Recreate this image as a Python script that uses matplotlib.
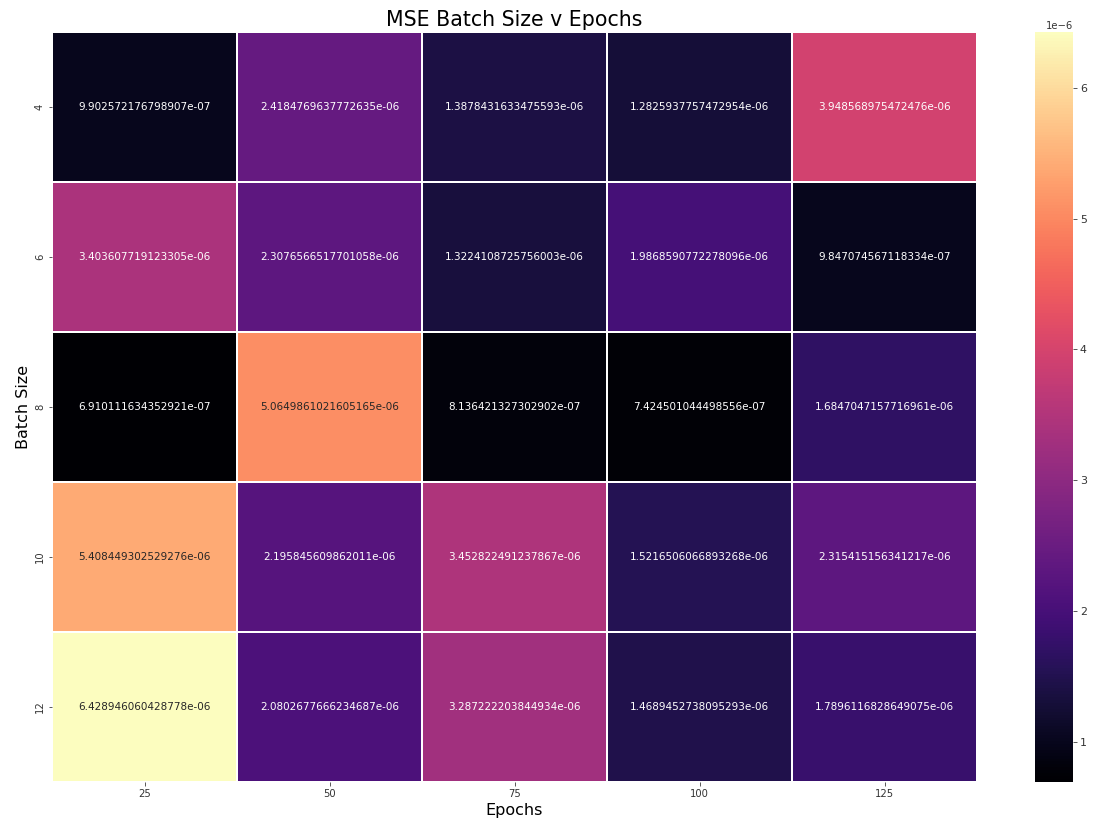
import numpy as np
import matplotlib
matplotlib.use("Agg")
import matplotlib.pyplot as plt
import seaborn as sns

epochs = [25, 50, 75, 100, 125]
batch_sizes = [4, 6, 8, 10, 12]
row_4 = [9.902572176798907e-07, 2.4184769637772635e-06, 1.3878431633475593e-06, 1.2825937757472954e-06, 3.948568975472476e-06]
row_6 = [3.403607719123305e-06, 2.3076566517701058e-06, 1.3224108725756003e-06, 1.9868590772278096e-06, 9.847074567118334e-07]
row_8 = [6.910111634352921e-07, 5.0649861021605165e-06, 8.136421327302902e-07, 7.424501044498556e-07, 1.6847047157716961e-06]
row_10 = [5.408449302529276e-06, 2.195845609862011e-06, 3.452822491237867e-06, 1.5216506066893268e-06, 2.315415156341217e-06]
row_12 = [6.428946060428778e-06, 2.0802677666234687e-06, 3.287222203844934e-06, 1.4689452738095293e-06, 1.7896116828649075e-06]

data = np.array([row_4, row_6, row_8, row_10, row_12])
labels = np.array([[repr(float(v)) for v in r] for r in data])

W, H = 1097, 832
fig = plt.figure(figsize=(W / 72, H / 72), dpi=72)
ax = fig.add_axes([52 / W, 1 - 782 / H, 925 / W, 750 / H])
cax = fig.add_axes([1035 / W, 1 - 782 / H, 38 / W, 750 / H])

sns.heatmap(data, ax=ax, cbar_ax=cax, cmap="magma", annot=labels, fmt="",
            linewidths=2, linecolor="white",
            xticklabels=epochs, yticklabels=batch_sizes,
            annot_kws={"fontsize": 10.4})
ax.set_title("MSE Batch Size v Epochs", fontsize=20.5)
ax.set_xlabel("Epochs", fontsize=16)
ax.set_ylabel("Batch Size", fontsize=16)
ax.tick_params(axis="both", labelsize=10, colors="#333333")
plt.setp(ax.get_yticklabels(), rotation=90, va="center")
plt.setp(ax.get_xticklabels(), rotation=0)
cax.tick_params(labelsize=11, colors="#333333")

fig.savefig("out.png", dpi=72)
